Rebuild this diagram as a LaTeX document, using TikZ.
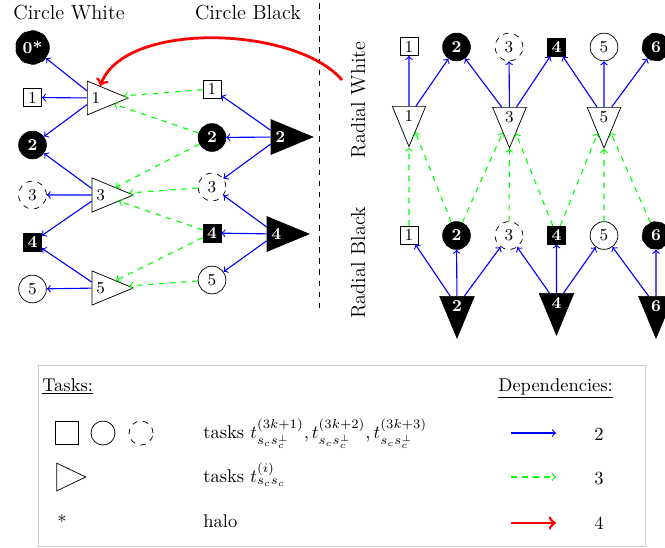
\documentclass[tikz,border=0pt]{standalone}
\usetikzlibrary{shapes.geometric}
\begin{document}
\begin{tikzpicture}[x=0.5405pt,y=-0.5405pt,>=to,
  every node/.style={font=\small},
  sq/.style={draw,rectangle,minimum size=9.7pt,inner sep=1pt},
  ci/.style={draw,circle,minimum size=15pt,inner sep=2pt},
  dci/.style={ci,dashed},
  blk/.style={fill=black,text=white,font=\small\bfseries},
  tri/.style={draw,isosceles triangle,isosceles triangle apex angle=45,inner sep=2.3pt,anchor=lower side},
  tridown/.style={tri,shape border rotate=270},
  dep2/.style={->,blue,semithick},
  dep3/.style={->,green,dashed,semithick},
  dep4/.style={->,red,line width=1.5pt},
  title/.style={font=\fontsize{11}{13}\selectfont},
  lgd/.style={font=\normalsize,inner sep=0pt}]
  \useasboundingbox (0,0) rectangle (665,547);
  \node[title,anchor=base] (cwtitle) at (69,19.5) {Circle White};
  \node[title,anchor=base] (cbtitle) at (248,19.5) {Circle Black};
  \node[title,anchor=base,rotate=90] (rwtitle) at (365,100) {Radial White};
  \node[title,anchor=base,rotate=90] (rbtitle) at (365,263) {Radial Black};
  \coordinate (septop) at (319,3);
  \coordinate (sepbot) at (319,313);
  \draw[dashed] (septop) -- (sepbot);

  \node[dci,blk] (cw0) at (32.5,47.5) {0*};
  \node[sq] (cw1) at (32.5,97.5) {1};
  \node[ci,blk] (cw2) at (32.5,145) {2};
  \node[dci] (cw3) at (32.5,195) {3};
  \node[sq,blk] (cw4) at (32.5,242) {4};
  \node[ci] (cw5) at (32.5,289) {5};
  \node[tri] (cwt1) at (87,98) {1};
  \node[tri] (cwt3) at (91.7,195) {3};
  \node[tri] (cwt5) at (91.7,288) {5};

  \node[sq] (cb1) at (212,89) {1};
  \node[ci,blk] (cb2) at (212,137.5) {2};
  \node[dci] (cb3) at (212,187) {3};
  \node[sq,blk] (cb4) at (212,233) {4};
  \node[ci] (cb5) at (212,280) {5};
  \node[tri,blk] (cbt2) at (270.7,137) {2};
  \node[tri,blk] (cbt4) at (266.7,234) {4};

  \node[sq] (rw1) at (409,46.5) {1};
  \node[ci,blk] (rw2) at (456.5,47) {2};
  \node[dci] (rw3) at (509,47) {3};
  \node[sq,blk] (rw4) at (556.5,47) {4};
  \node[ci] (rw5) at (604,47) {5};
  \node[dci,blk] (rw6) at (656,47) {6};
  \node[tridown] (rwt1) at (409,106) {1};
  \node[tridown] (rwt3) at (509.5,107) {3};
  \node[tridown] (rwt5) at (604,107) {5};

  \node[sq] (rb1) at (409,235) {1};
  \node[ci,blk] (rb2) at (456.5,235.5) {2};
  \node[dci] (rb3) at (509,235.5) {3};
  \node[sq,blk] (rb4) at (556.5,235) {4};
  \node[ci] (rb5) at (604,235.5) {5};
  \node[dci,blk] (rb6) at (656,235.5) {6};
  \node[tridown,blk] (rbt2) at (457,296) {2};
  \node[tridown,blk] (rbt4) at (556.5,293) {4};
  \node[tridown,blk] (rbt6) at (656,296) {6};

  \draw[dep2] (cwt1) -- (cw0);
  \draw[dep2] (cwt1) -- (cw1);
  \draw[dep2] (cwt1) -- (cw2);
  \draw[dep2] (cwt3) -- (cw2);
  \draw[dep2] (cwt3) -- (cw3);
  \draw[dep2] (cwt3) -- (cw4);
  \draw[dep2] (cwt5) -- (cw4);
  \draw[dep2] (cwt5) -- (cw5);
  \draw[dep2] (cbt2) -- (cb1);
  \draw[dep2] (cbt2) -- (cb2);
  \draw[dep2] (cbt2) -- (cb3);
  \draw[dep2] (cbt4) -- (cb3);
  \draw[dep2] (cbt4) -- (cb4);
  \draw[dep2] (cbt4) -- (cb5);
  \draw[dep3] (cb1) -- (cwt1);
  \draw[dep3] (cb2) -- (cwt1);
  \draw[dep3] (cb2) -- (cwt3);
  \draw[dep3] (cb3) -- (cwt3);
  \draw[dep3] (cb4) -- (cwt3);
  \draw[dep3] (cb4) -- (cwt5);
  \draw[dep3] (cb5) -- (cwt5);

  \draw[dep2] (rwt1) -- (rw1);
  \draw[dep2] (rwt1) -- (rw2);
  \draw[dep2] (rwt3) -- (rw2);
  \draw[dep2] (rwt3) -- (rw3);
  \draw[dep2] (rwt3) -- (rw4);
  \draw[dep2] (rwt5) -- (rw4);
  \draw[dep2] (rwt5) -- (rw5);
  \draw[dep2] (rwt5) -- (rw6);
  \draw[dep2] (rbt2) -- (rb1);
  \draw[dep2] (rbt2) -- (rb2);
  \draw[dep2] (rbt2) -- (rb3);
  \draw[dep2] (rbt4) -- (rb3);
  \draw[dep2] (rbt4) -- (rb4);
  \draw[dep2] (rbt4) -- (rb5);
  \draw[dep2] (rbt6) -- (rb5);
  \draw[dep2] (rbt6) -- (rb6);
  \draw[dep3] (rb1) -- (rwt1);
  \draw[dep3] (rb2) -- (rwt1);
  \draw[dep3] (rb2) -- (rwt3);
  \draw[dep3] (rb3) -- (rwt3);
  \draw[dep3] (rb4) -- (rwt3);
  \draw[dep3] (rb4) -- (rwt5);
  \draw[dep3] (rb5) -- (rwt5);
  \draw[dep3] (rb6) -- (rwt5);

  \coordinate (halo) at (342,80);
  \draw[dep4] (halo) .. controls (296,26) and (124,20) .. (cwt1);

  \coordinate (boxnw) at (38.5,365);
  \coordinate (boxse) at (645.5,546);
  \draw[black!20] (boxnw) rectangle (boxse);
  \node[lgd,anchor=base west] (tasks) at (42,391) {\underline{Tasks:}};
  \node[lgd,anchor=base west] (deps) at (498,391) {\underline{Dependencies:}};
  \node[sq,minimum size=12.4pt] (lsq) at (67,433) {};
  \node[ci,minimum size=13pt] (lci) at (103,433) {};
  \node[dci,minimum size=13pt] (ldci) at (141,433) {};
  \node[draw,isosceles triangle,isosceles triangle stretches,minimum width=15pt,minimum height=15.7pt,inner sep=0pt] (ltri) at (65.5,477) {};
  \node[lgd,anchor=base] (lstar) at (62,528) {*};
  \node[lgd,anchor=base west] (ltxt1) at (203,438) {tasks $t^{(3k+1)}_{s_c s_c^\perp}, t^{(3k+2)}_{s_c s_c^\perp}, t^{(3k+3)}_{s_c s_c^\perp}$};
  \node[lgd,anchor=base west] (ltxt2) at (203,482) {tasks $t^{(i)}_{s_c s_c}$};
  \node[lgd,anchor=base west] (ltxt3) at (203,527) {halo};
  \coordinate (l2a) at (511,433);
  \coordinate (l2b) at (556,433);
  \coordinate (l3a) at (511,477);
  \coordinate (l3b) at (556,477);
  \coordinate (l4a) at (511,523);
  \coordinate (l4b) at (556,523);
  \draw[dep2] (l2a) -- (l2b);
  \draw[dep3] (l3a) -- (l3b);
  \draw[dep4] (l4a) -- (l4b);
  \node[lgd,anchor=base] (ln2) at (599,440) {2};
  \node[lgd,anchor=base] (ln3) at (599,484) {3};
  \node[lgd,anchor=base] (ln4) at (599,529) {4};
\end{tikzpicture}
\end{document}
